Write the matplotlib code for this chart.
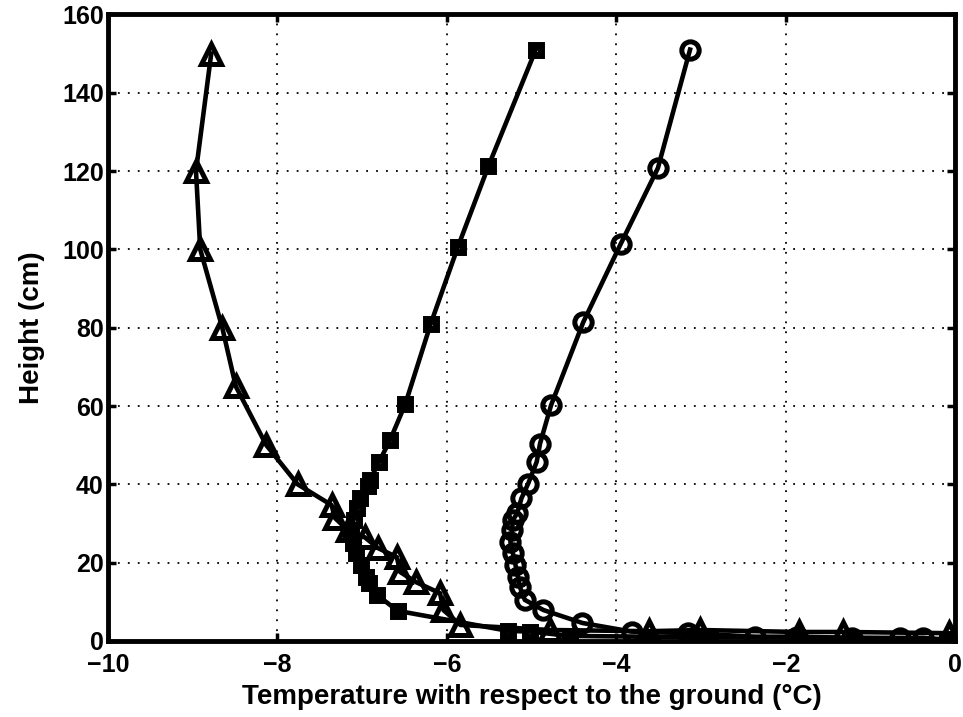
import matplotlib
matplotlib.use("Agg")
import matplotlib.pyplot as plt

# Temperature (deg C, relative to ground) and height (cm)
tri_temp = [-8.78, -8.96, -8.91, -8.65, -8.49, -8.13, -7.76, -7.36, -7.32, -7.17,
            -6.97, -6.81, -6.59, -6.55, -6.36, -6.08, -6.04, -5.84, -4.78, -3.62,
            -3.01, -1.85, -1.33, -0.08, 0.0]
tri_height = [150, 120, 100, 80, 65, 50, 40, 34.7, 31.4, 28.3,
              26.5, 23.7, 21.4, 17.6, 15, 12.2, 7.9, 4.1, 2.8, 2.5,
              2.8, 2.3, 2.3, 2.0, 0.0]

sq_temp = [-4.95, -5.51, -5.87, -6.19, -6.49, -6.67, -6.80, -6.91, -6.93, -7.02,
           -7.06, -7.10, -7.13, -7.11, -7.07, -7.01, -6.95, -6.92, -6.82, -6.58,
           -5.28, -5.02, -4.55, -3.64, -2.90, -1.87, -1.24, -0.10, 0.0]
sq_height = [151, 121.2, 100.6, 81, 60.5, 51.3, 45.7, 41, 39.5, 36.5,
             34, 31, 27.9, 25, 22.4, 19.4, 16.4, 14.8, 11.7, 7.7,
             2.6, 2.4, 1.3, 1.1, 1.0, 0.9, 0.8, 0.5, 0.0]

circ_temp = [-3.13, -3.51, -3.95, -4.39, -4.77, -4.90, -4.94, -5.04, -5.12, -5.17,
             -5.22, -5.23, -5.25, -5.22, -5.19, -5.16, -5.14, -5.08, -4.86, -4.40,
             -3.82, -3.15, -2.36, -1.87, -1.22, -0.65, -0.38, 0.0]
circ_height = [151, 120.7, 101.3, 81.4, 60.2, 50.4, 45.7, 40.2, 36.4, 32.6,
               30.9, 28.3, 25.3, 22.4, 19.4, 16.4, 13.9, 10.5, 7.9, 4.6,
               2.4, 2.0, 1.1, 1.1, 0.8, 0.8, 0.8, 0.0]

plt.rcParams['font.family'] = ['Liberation Sans', 'DejaVu Sans']
plt.rcParams['font.weight'] = 'bold'

fig = plt.figure(figsize=(9.63, 7.17), dpi=100)
ax = fig.add_axes([0.112, 0.106, 0.88, 0.874])

ax.plot(tri_temp, tri_height, color='k', linewidth=3.3, marker='^',
        markersize=14, markerfacecolor='none', markeredgewidth=3.6)
ax.plot(sq_temp, sq_height, color='k', linewidth=3.3, marker='s',
        markersize=7.5, markerfacecolor='none', markeredgewidth=5)
ax.plot(circ_temp, circ_height, color='k', linewidth=3.3, marker='o',
        markersize=12.5, markerfacecolor='none', markeredgewidth=3.6)

ax.set_xlim(-10, 0)
ax.set_ylim(0, 160)
ax.set_xticks(range(-10, 1, 2))
ax.set_yticks(range(0, 161, 20))
ax.set_xticklabels(['\u221210', '\u22128', '\u22126', '\u22124', '\u22122', '0'])
ax.grid(True, color='k', linestyle=(0, (1, 4.5)), linewidth=1.3)
ax.tick_params(direction='in', length=6, width=2.5, labelsize=18,
               top=True, right=True)
ax.tick_params(axis='x', pad=9)
ax.tick_params(axis='y', pad=3)
for s in ax.spines.values():
    s.set_linewidth(3.5)

ax.set_xlabel('Temperature with respect to the ground (\u00b0C)', fontsize=20,
              fontweight='bold', labelpad=5)
ax.set_ylabel('Height (cm)', fontsize=20, fontweight='bold', labelpad=12)

fig.savefig('out.png', dpi=100)
